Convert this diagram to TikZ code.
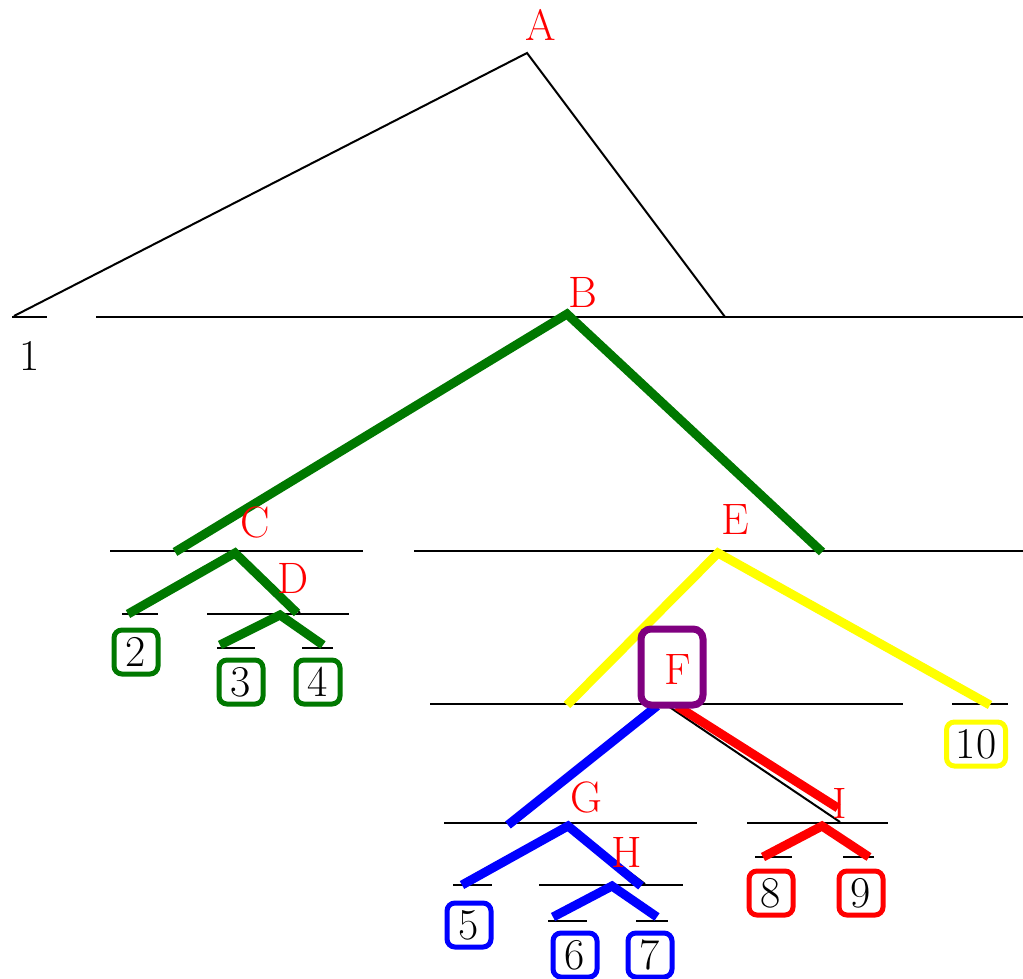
\documentclass[tikz,border=0pt]{standalone}
\usepackage{tikz}
\definecolor{tgreen}{RGB}{0,120,0}
\definecolor{tpurple}{RGB}{128,0,128}
\definecolor{tyellow}{RGB}{255,255,0}
\definecolor{tblue}{RGB}{0,0,255}
\definecolor{tred}{RGB}{255,0,0}
\begin{document}
\begin{tikzpicture}[x=1pt,y=-1pt,
  thinl/.style={line width=2pt, black},
  colline/.style={line width=9pt},
  lab/.style={text=tred, font=\fontsize{44}{50}\selectfont, inner sep=0pt},
  num/.style={text=black, font=\fontsize{44}{50}\selectfont, inner sep=0pt},
  leafbox/.style={draw, line width=5pt, rounded corners=8pt, minimum width=44pt, minimum height=44pt, inner sep=0pt, fill=white, text=black, font=\fontsize{44}{50}\selectfont}
]
\useasboundingbox (0,0) rectangle (1023,979);
% coordinates
\coordinate (A) at (527,53);
\coordinate (L1) at (14,316);
\coordinate (Ar) at (725,317);
\coordinate (B) at (567,314);
\coordinate (Bl) at (175,552);
\coordinate (Br) at (822,552);
\coordinate (C) at (235,553);
\coordinate (C2) at (128,614);
\coordinate (D) at (297,613);
\coordinate (Dk) at (300,613);
\coordinate (Dg) at (280,615);
\coordinate (D3) at (220,645);
\coordinate (D4) at (323,645);
\coordinate (E) at (718,553);
\coordinate (El) at (567,705);
\coordinate (Er) at (990,705);
\coordinate (Fb) at (657,706);
\coordinate (Fr) at (677,706);
\coordinate (Fk) at (668,706);
\coordinate (Gl) at (508,825);
\coordinate (Ir) at (838,808);
\coordinate (Ik) at (840,822);
\coordinate (G) at (568,826);
\coordinate (G5) at (462,885);
\coordinate (GH) at (641,886);
\coordinate (GHk) at (645,884);
\coordinate (H) at (612,886);
\coordinate (H6) at (553,917);
\coordinate (H7) at (657,917);
\coordinate (I) at (822,826);
\coordinate (I8) at (763,857);
\coordinate (I9) at (869,857);
% horizontal lines
\draw[thinl] (12,317) -- (47,317);
\draw[thinl] (96,317) -- (1023,317);
\draw[thinl] (110,551) -- (363,551);
\draw[thinl] (414,551) -- (1023,551);
\draw[thinl] (122,614) -- (158,614);
\draw[thinl] (207,614) -- (349,614);
\draw[thinl] (217,648) -- (255,648);
\draw[thinl] (302,648) -- (333,648);
\draw[thinl] (430,704) -- (903,704);
\draw[thinl] (952,704) -- (1008,704);
\draw[thinl] (444,823) -- (697,823);
\draw[thinl] (747,823) -- (888,823);
\draw[thinl] (453,885) -- (492,885);
\draw[thinl] (539,885) -- (683,885);
\draw[thinl] (548,921) -- (587,921);
\draw[thinl] (636,921) -- (668,921);
\draw[thinl] (755,857) -- (792,857);
\draw[thinl] (843,857) -- (874,857);
% thin tree edges
\draw[thinl] (L1) -- (A) -- (Ar);
\draw[thinl] (C) -- (Dk);
\draw[thinl] (Fk) -- (Ik);
\draw[thinl] (G) -- (GHk);
\draw[thinl] (G) -- (G5);
\draw[thinl] (I) -- (I8);
\draw[thinl] (I) -- (I9);
% coloured edges
\draw[colline, tgreen] (Bl) -- (B) -- (Br);
\draw[colline, tgreen] (C2) -- (C) -- (D);
\draw[colline, tgreen] (D3) -- (Dg) -- (D4);
\draw[colline, tyellow] (El) -- (E) -- (Er);
\draw[colline, tblue] (Fb) -- (Gl);
\draw[colline, tblue] (G5) -- (G) -- (GH);
\draw[colline, tblue] (H6) -- (H) -- (H7);
\draw[colline, tred] (Fr) -- (Ir);
\draw[colline, tred] (I8) -- (I) -- (I9);
% F box
\node[draw=tpurple, line width=7pt, rounded corners=10pt, minimum width=62pt, minimum height=76pt, fill=white, inner sep=0pt] (Fbox) at (672,667) {};
% labels
\node[lab] (labA) at (541,25) {A};
\node[lab] (labB) at (583,292) {B};
\node[lab] (labC) at (255,522) {C};
\node[lab] (labD) at (293,578) {D};
\node[lab] (labE) at (735,520) {E};
\node[lab] (labF) at (678,670) {F};
\node[lab] (labG) at (586,797) {G};
\node[lab] (labH) at (627,852) {H};
\node[lab] (labI) at (840,803) {I};
\node[num] (n1) at (30,356) {1};
% leaf boxes
\node[leafbox, draw=tgreen] (b2) at (136,652) {2};
\node[leafbox, draw=tgreen] (b3) at (241,682) {3};
\node[leafbox, draw=tgreen] (b4) at (318,682) {4};
\node[leafbox, draw=tblue] (b5) at (469,925) {5};
\node[leafbox, draw=tblue] (b6) at (575,955) {6};
\node[leafbox, draw=tblue] (b7) at (650,955) {7};
\node[leafbox, draw=tred] (b8) at (771,893) {8};
\node[leafbox, draw=tred] (b9) at (861,893) {9};
\node[leafbox, draw=tyellow, minimum width=59pt] (b10) at (976,744) {10};
\end{tikzpicture}
\end{document}
